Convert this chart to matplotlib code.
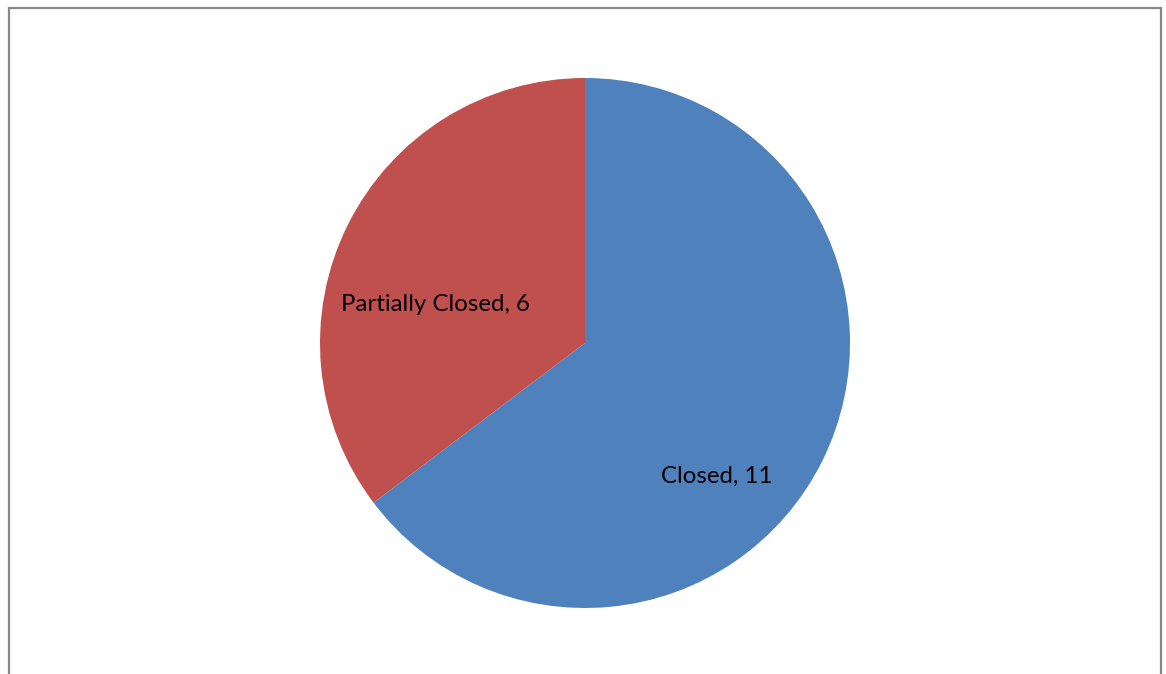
import matplotlib.pyplot as plt
from matplotlib.patches import Rectangle

labels = ['Closed', 'Partially Closed']
values = [11, 6]
colors = ['#4F81BD', '#C0504D']

W, H = 1166, 674
fig = plt.figure(figsize=(W / 100, H / 100), dpi=100)

# outer chart frame (runs past the bottom edge in the reference)
fig.patches.append(Rectangle((9 / W, -0.05), (1161 - 9) / W, 1.05 - 8 / H,
                             transform=fig.transFigure, fill=False,
                             edgecolor='#878787', linewidth=1.6))

ax = fig.add_axes([320 / W, (H - 608) / H, 530 / W, 530 / H])
ax.pie(values, colors=colors, startangle=90, counterclock=False,
       wedgeprops=dict(linewidth=0))
ax.set_xlim(-1, 1)
ax.set_ylim(-1, 1)
ax.set_aspect('equal')

# data labels, placed like Excel's best-fit labels
label_pos = [(0.498, -0.502), (-0.566, 0.147)]
for (x, y), lab, v in zip(label_pos, labels, values):
    ax.text(x, y, f'{lab}, {v}', ha='center', va='center',
            fontsize=17.3, family=['Lato', 'DejaVu Sans'], color='black')

fig.savefig('out.png', dpi=100)
